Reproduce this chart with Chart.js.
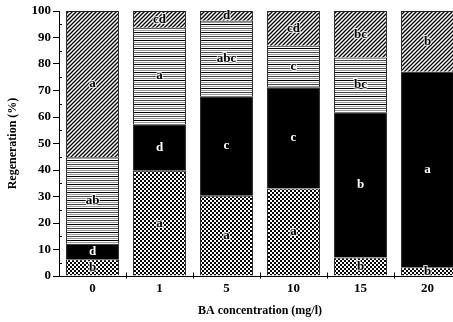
<!DOCTYPE html>
<html>
<head>
<meta charset="utf-8">
<script src="https://cdn.jsdelivr.net/npm/chart.js@4"></script>
<style>
html,body{margin:0;padding:0;background:#fff;overflow:hidden;width:453px;height:322px;}
canvas{display:block;}
</style>
</head>
<body>
<canvas id="c" width="470" height="322"></canvas>
<script>
// ---- data ----
const categories = ['0', '1', '5', '10', '15', '20'];
const crossValues = [6.3, 39.7, 30.3, 33.0, 7.0, 3.3];
const blackValues = [5.9, 17.6, 37.5, 38.2, 54.8, 73.8];
const hlineValues = [32.6, 36.4, 28.5, 15.7, 20.7, 0];
const diagValues  = [55.2, 6.3, 3.7, 13.1, 17.5, 22.9];
const crossLetters = ['b', 'a', 'a', 'a', 'b', 'b'];
const blackLetters = ['d', 'd', 'c', 'c', 'b', 'a'];
const hlineLetters = ['ab', 'a', 'abc', 'c', 'bc', ''];
const diagLetters  = ['a', 'cd', 'd', 'cd', 'bc', 'b'];
const yTicks = [0, 10, 20, 30, 40, 50, 60, 70, 80, 90, 100];
const yMinorTicks = [5, 15, 25, 35, 45, 55, 65, 75, 85, 95];

// ---- patterns ----
function tile(w, h, draw) {
  const c = document.createElement('canvas');
  c.width = w; c.height = h;
  const g = c.getContext('2d');
  g.fillStyle = '#fff'; g.fillRect(0, 0, w, h);
  draw(g);
  return document.getElementById('c').getContext('2d').createPattern(c, 'repeat');
}
const crossPat = tile(4, 4, g => {
  g.fillStyle = '#000';
  g.fillRect(0, 0, 2, 2);
  g.fillRect(2, 2, 2, 2);
});
const diagPat = tile(4, 4, g => {
  g.strokeStyle = '#000'; g.lineWidth = 1.3;
  g.beginPath();
  g.moveTo(-1, 5); g.lineTo(5, -1);
  g.moveTo(-1, 1); g.lineTo(1, -1);
  g.moveTo(3, 5); g.lineTo(5, 3);
  g.stroke();
});
const hlinePat = tile(4, 8, g => {
  g.fillStyle = '#000'; g.fillRect(0, 0, 4, 1);
  g.fillStyle = '#999'; g.fillRect(0, 2, 4, 1);
  g.fillStyle = '#444'; g.fillRect(0, 4, 4, 1);
  g.fillStyle = '#999'; g.fillRect(0, 6, 4, 1);
});

const FONT = "'Liberation Serif', 'Times New Roman', serif";

const letterPlugin = {
  id: 'letters',
  afterDatasetsDraw(chart) {
    const ctx = chart.ctx;
    ctx.save();
    ctx.font = 'bold 13px ' + FONT;
    ctx.textAlign = 'center';
    ctx.textBaseline = 'middle';
    chart.data.datasets.forEach((ds, di) => {
      const meta = chart.getDatasetMeta(di);
      meta.data.forEach((el, i) => {
        const txt = ds.letters[i];
        if (!txt) return;
        const cy = (el.y + el.base) / 2;
        if (ds.white) {
          ctx.fillStyle = '#fff';
          ctx.fillText(txt, el.x, cy);
        } else {
          ctx.lineWidth = 2;
          ctx.strokeStyle = 'rgba(255,255,255,0.8)';
          ctx.strokeText(txt, el.x, cy);
          ctx.fillStyle = '#000';
          ctx.fillText(txt, el.x, cy);
        }
      });
    });
    ctx.restore();
  },
  afterDraw(chart) {
    const ctx = chart.ctx;
    const xs = chart.scales.x, ys = chart.scales.y;
    ctx.save();
    ctx.strokeStyle = '#000';
    ctx.lineWidth = 1;
    ctx.beginPath();
    // minor y ticks inside
    yMinorTicks.forEach(v => {
      const y = Math.round(ys.getPixelForValue(v)) + 0.5;
      ctx.moveTo(xs.left, y); ctx.lineTo(xs.left + 3, y);
    });
    // x boundary ticks
    const axisY = Math.round(ys.getPixelForValue(0)) + 0.5;
    for (let i = 1; i < categories.length; i++) {
      const x = Math.round((xs.getPixelForValue(i - 1) + xs.getPixelForValue(i)) / 2) + 0.5;
      ctx.moveTo(x, axisY - 4); ctx.lineTo(x, axisY + 2);
    }
    ctx.stroke();
    ctx.restore();
  }
};

const common = { borderColor: '#222', borderWidth: 1, barPercentage: 1, categoryPercentage: 0.79 };

new Chart(document.getElementById('c'), {
  type: 'bar',
  data: {
    labels: categories,
    datasets: [
      Object.assign({ data: crossValues, backgroundColor: crossPat, letters: crossLetters }, common),
      Object.assign({ data: blackValues, backgroundColor: '#000', letters: blackLetters, white: true }, common),
      Object.assign({ data: hlineValues, backgroundColor: hlinePat, letters: hlineLetters }, common),
      Object.assign({ data: diagValues, backgroundColor: diagPat, letters: diagLetters }, common)
    ]
  },
  options: {
    responsive: false,
    animation: false,
    layout: { padding: { top: 11, right: 9, bottom: 0, left: 0 } },
    plugins: { legend: { display: false }, tooltip: { enabled: false } },
    scales: {
      x: {
        stacked: true,
        afterFit(s) { s.height = 46; },
        grid: { display: false, drawTicks: false },
        border: { display: true, color: '#000', width: 1 },
        ticks: { color: '#000', padding: 5, font: { family: FONT, size: 13, weight: 'bold' } },
        title: { display: true, text: 'BA concentration (mg/l)', color: '#000', padding: { top: 0, bottom: 4 },
                 font: { family: FONT, size: 12, weight: 'bold' } }
      },
      y: {
        stacked: true,
        min: 0, max: 100,
        afterFit(s) { s.width = 59; },
        afterBuildTicks(s) { s.ticks = yTicks.map(v => ({ value: v })); },
        grid: { drawOnChartArea: false, tickLength: 6, color: '#000' },
        border: { display: true, color: '#000', width: 1 },
        ticks: { color: '#000', padding: 2, font: { family: FONT, size: 13, weight: 'bold' } },
        title: { display: true, text: 'Regeneration (%)', color: '#000', padding: { top: 6, bottom: 0 },
                 font: { family: FONT, size: 12, weight: 'bold' } }
      }
    }
  },
  plugins: [letterPlugin]
});
</script>
</body>
</html>
